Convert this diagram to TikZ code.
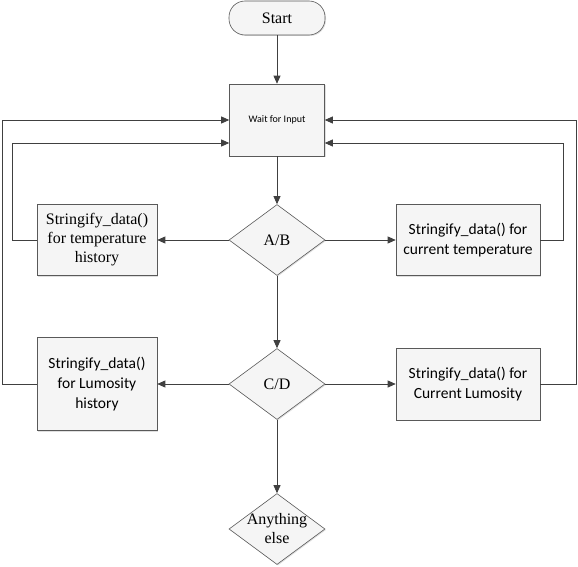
\documentclass[tikz,border=0pt]{standalone}
\usepackage{fontspec}
\setmainfont{Liberation Serif}
\newfontfamily\boxfont{Carlito}
\newfontfamily\labelfont{Liberation Serif}
\usepackage{tikz}
\usetikzlibrary{positioning,shapes.geometric,arrows.meta,shadows}

\tikzset{
    shape base/.style={draw=black!65, fill=black!4, line width=0.6pt,
                       drop shadow={opacity=0.25, shadow xshift=1pt, shadow yshift=-1pt}},
    serif text/.style={font=\labelfont\fontsize{16}{19}\selectfont},
    sans text/.style={font=\boxfont\fontsize{15.5}{20}\selectfont},
    terminal/.style={shape base, rectangle, rounded corners=16pt,
                     minimum width=96pt, minimum height=34pt, serif text},
    process/.style={shape base, rectangle, inner sep=2pt, align=center},
    decision/.style={shape base, diamond, inner sep=0pt,
                     minimum width=96pt, minimum height=71pt, serif text},
    flow/.style={draw=black!75, line width=0.8pt, -{Triangle[length=8pt,width=7pt]}}
}

\begin{document}
\begin{tikzpicture}[x=1pt, y=-1pt]
                    \useasboundingbox (0,0) rectangle (578,567);

                    \node[terminal] (start) at (277,18) {Start};
                    \node[process, minimum width=95pt, minimum height=72pt,
                          font=\boxfont\fontsize{10}{12}\selectfont] (wait) at (277,120) {Wait for Input};

                    \node[decision] (ab) at (277,240) {A/B};
                    \node[process, serif text, minimum width=120pt, minimum height=71pt] (temphist) at (97,240)
                          {Stringify\_data()\\for temperature\\history};
                    \node[process, sans text, minimum width=144pt, minimum height=71pt] (tempnow) at (468,240)
                          {Stringify\_data() for\\current temperature};

                    \node[decision] (cd) at (277,384) {C/D};
                    \node[process, sans text, minimum width=120pt, minimum height=93pt] (lumhist) at (97,384)
                          {Stringify\_data()\\for Lumosity\\history};
                    \node[process, sans text, minimum width=144pt, minimum height=72pt] (lumnow) at (468,384)
                          {Stringify\_data() for\\Current Lumosity};

                    \node[decision] (else) at (277,529) {};
                    \node[serif text, align=center, inner sep=0pt] (elsetext) at (else)
                          {Anything\\else};

                    % main line
                    \draw[flow] (start) -- (wait);
                    \draw[flow] (wait) -- (ab);
                    \draw[flow] (ab) -- (cd);
                    \draw[flow] (cd) -- (else);

                    % branches
                    \draw[flow] (ab) -- (temphist);
                    \draw[flow] (ab) -- (tempnow);
                    \draw[flow] (cd) -- (lumhist);
                    \draw[flow] (cd) -- (lumnow);

                    % back to input
                    \draw[flow] (temphist.west) -- ++(-24,0) |- ([yshift=-23pt]wait.west);
                    \draw[flow] (lumhist.west) -- ++(-34,0) |- (wait.west);
                    \draw[flow] (tempnow.east) -- ++(23,0) |- ([yshift=-23pt]wait.east);
                    \draw[flow] (lumnow.east) -- ++(36,0) |- (wait.east);
                \end{tikzpicture}
\end{document}
